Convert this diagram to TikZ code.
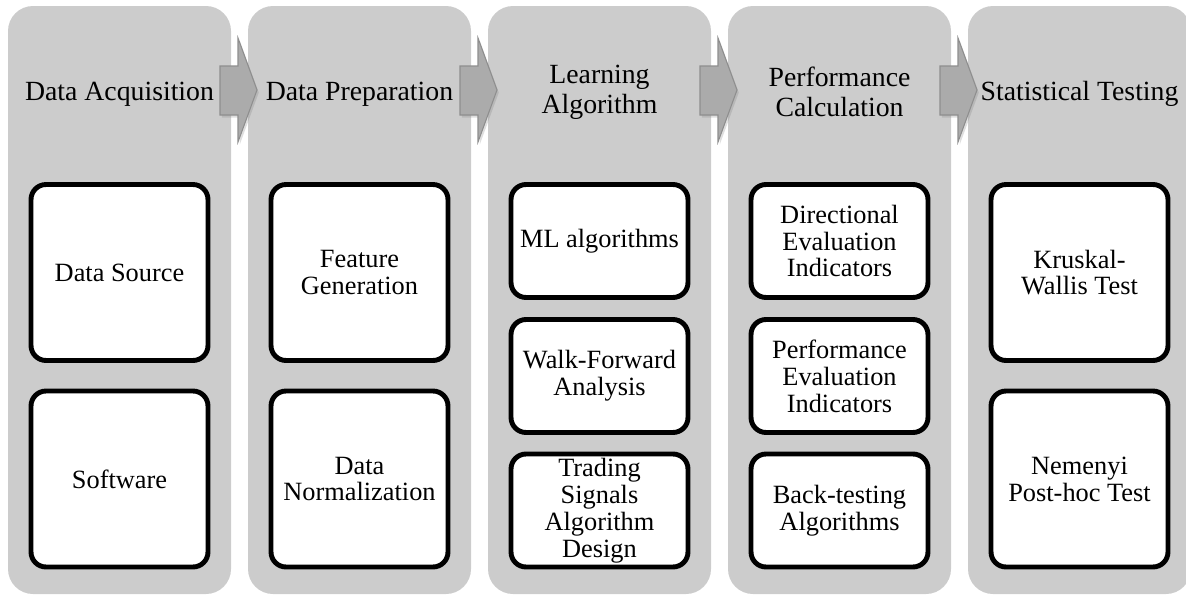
\documentclass[tikz,border=0pt]{standalone}
\usepackage{fontspec}
\setmainfont{Liberation Serif}
\usetikzlibrary{shadows}
\definecolor{phasegray}{HTML}{CCCCCC}
\definecolor{arrowgray}{HTML}{ABABAB}
\definecolor{arrowedge}{HTML}{8E8E8E}
\tikzset{
  phasebg/.style={fill=phasegray, rounded corners=0.5cm},
  phasetitle/.style={align=center, inner sep=0pt, font=\fontsize{15.8}{17}\selectfont},
  taskbox/.style={draw=black, fill=white, line width=2.8pt, rounded corners=0.3cm,
    align=center, minimum width=3.54cm, inner sep=2pt, font=\fontsize{15}{15.3}\selectfont},
  tallbox/.style={taskbox, minimum height=3.52cm},
  shortbox/.style={taskbox, minimum height=2.26cm},
  flowarrow/.style={fill=arrowgray, draw=arrowedge, line width=0.6pt,
    drop shadow={shadow xshift=1pt, shadow yshift=-1.5pt, opacity=0.25}}
}
\begin{document}
\begin{tikzpicture}[x=0.02cm, y=-0.02cm]
        \clip (0,0) rectangle (1186,595);
        % grey phase columns
        \foreach \k in {0,...,4}
          \fill[phasebg] (8+240*\k,6) rectangle (231+240*\k,594);
        % block arrows between the phases
        \foreach \k in {0,...,3}
          \draw[flowarrow, shift={(240*\k,0)}] (220,66) -- (238,66) -- (238,38) -- (257,90)
            -- (238,142) -- (238,115) -- (220,115) -- cycle;
        \node[phasetitle] (acq) at (119.5,94) {Data Acquisition};
        \node[phasetitle] (prep) at (359.5,94) {Data Preparation};
        \node[phasetitle] (learn) at (599.5,92) {Learning\\Algorithm};
        \node[phasetitle] (perf) at (839.5,92) {Performance\\Calculation};
        \node[phasetitle] (stat) at (1079.5,94) {Statistical Testing};
        \node[tallbox] (src) at (119.5,272.5) {Data Source};
        \node[tallbox] (soft) at (119.5,479) {Software};
        \node[tallbox] (feat) at (359.5,272.5) {Feature\\Generation};
        \node[tallbox] (norm) at (359.5,479) {Data\\Normalization};
        \node[shortbox] (ml) at (599.5,241) {ML algorithms};
        \node[shortbox] (wfa) at (599.5,376) {Walk-Forward\\Analysis};
        \node[shortbox] (sig) at (599.5,510.5) {Trading\\Signals\\Algorithm\\Design};
        \node[shortbox] (dir) at (839.5,241) {Directional\\Evaluation\\Indicators};
        \node[shortbox] (pei) at (839.5,376) {Performance\\Evaluation\\Indicators};
        \node[shortbox] (bt) at (839.5,510.5) {Back-testing\\Algorithms};
        \node[tallbox] (kw) at (1079.5,272.5) {Kruskal-\\Wallis Test};
        \node[tallbox] (nem) at (1079.5,479) {Nemenyi\\Post-hoc Test};
      \end{tikzpicture}
\end{document}
